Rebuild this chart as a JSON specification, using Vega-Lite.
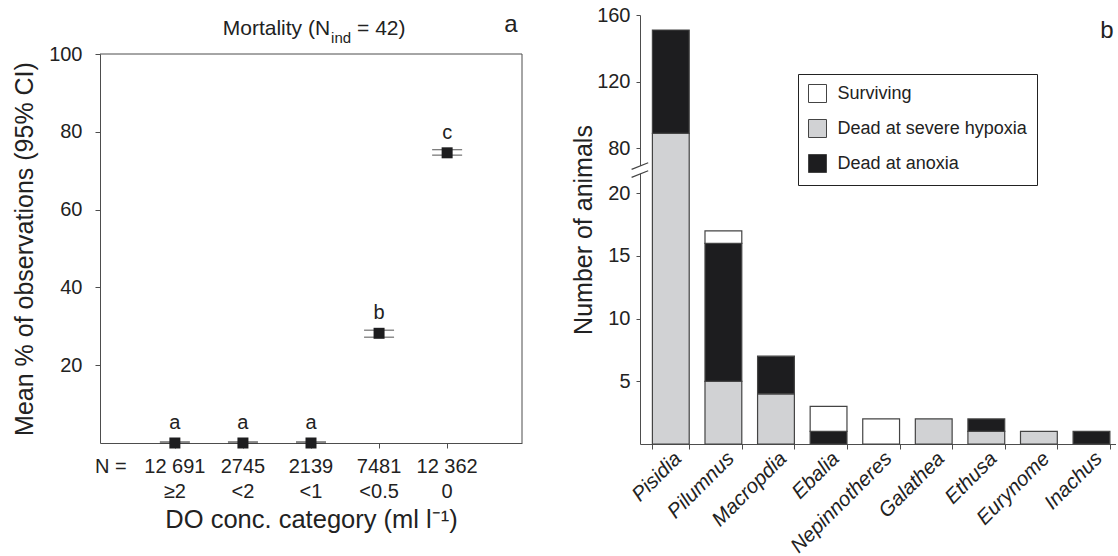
{
  "$schema": "https://vega.github.io/schema/vega-lite/v6.json",
  "padding": {"left": 12, "top": 5, "right": 0, "bottom": 0},
  "bounds": "flush",
  "spacing": 118,
  "config": {
    "font": "Liberation Sans",
    "view": {"stroke": null},
    "axis": {
      "labelFont": "Liberation Sans",
      "titleFont": "Liberation Sans",
      "labelColor": "#222",
      "titleColor": "#222",
      "domainColor": "#4d4d4d",
      "tickColor": "#4d4d4d",
      "grid": false,
      "titleFontWeight": "normal"
    },
    "text": {"font": "Liberation Sans", "color": "#222"}
  },
  "hconcat": [
    {
      "width": 422,
      "height": 428,
      "data": {
        "values": [
          {"cat": 1, "n": "12 691", "lab": "≥2", "mean": 0, "lo": 0, "hi": 0.3, "letter": "a"},
          {"cat": 2, "n": "2745", "lab": "<2", "mean": 0, "lo": 0, "hi": 0.3, "letter": "a"},
          {"cat": 3, "n": "2139", "lab": "<1", "mean": 0, "lo": 0, "hi": 0.3, "letter": "a"},
          {"cat": 4, "n": "7481", "lab": "<0.5", "mean": 28.2, "lo": 27.2, "hi": 29.0, "letter": "b"},
          {"cat": 5, "n": "12 362", "lab": "0", "mean": 74.6, "lo": 74.0, "hi": 75.4, "letter": "c"}
        ]
      },
      "layer": [
        {
          "mark": {"type": "rule", "color": "#1d1d1f", "strokeWidth": 1.2},
          "encoding": {
            "x": {
              "field": "cat",
              "type": "quantitative",
              "title": "DO conc. category (ml l⁻¹)",
              "scale": {"domain": [-0.1, 6.1], "nice": false, "zero": false},
              "axis": {"values": [1, 2, 3, 4, 5], "labels": false, "tickSize": 5, "titleFontSize": 25.5, "titlePadding": 59}
            },
            "y": {
              "field": "lo",
              "type": "quantitative",
              "title": "Mean % of observations (95% CI)",
              "scale": {"domain": [0, 100], "range": [428, 39], "nice": false, "zero": false},
              "axis": {"values": [20, 40, 60, 80, 100], "tickSize": 5, "labelPadding": 13, "labelFontSize": 20, "titleFontSize": 25, "titlePadding": 11}
            },
            "y2": {"field": "hi"}
          }
        },
        {
          "data": {"values": [{"x0": -0.1, "x1": 6.1, "yv": 100}]},
          "mark": {"type": "rule", "color": "#4d4d4d", "strokeWidth": 1},
          "encoding": {
            "x": {"field": "x0", "type": "quantitative", "title": "DO conc. category (ml l⁻¹)"},
            "x2": {"field": "x1"},
            "y": {"field": "yv", "type": "quantitative", "title": "Mean % of observations (95% CI)"}
          }
        },
        {
          "data": {"values": [{"xv": 6.1, "y0": 0, "y1": 100}]},
          "mark": {"type": "rule", "color": "#4d4d4d", "strokeWidth": 1},
          "encoding": {
            "x": {"field": "xv", "type": "quantitative", "title": "DO conc. category (ml l⁻¹)"},
            "y": {"field": "y0", "type": "quantitative", "title": "Mean % of observations (95% CI)"},
            "y2": {"field": "y1"}
          }
        },
        {
          "mark": {"type": "tick", "orient": "horizontal", "size": 30, "thickness": 1.2, "color": "#333"},
          "encoding": {
            "x": {"field": "cat", "type": "quantitative", "title": "DO conc. category (ml l⁻¹)"},
            "y": {"field": "lo", "type": "quantitative", "title": "Mean % of observations (95% CI)"}
          }
        },
        {
          "mark": {"type": "tick", "orient": "horizontal", "size": 30, "thickness": 1.2, "color": "#333"},
          "encoding": {
            "x": {"field": "cat", "type": "quantitative", "title": "DO conc. category (ml l⁻¹)"},
            "y": {"field": "hi", "type": "quantitative", "title": "Mean % of observations (95% CI)"}
          }
        },
        {
          "mark": {"type": "point", "shape": "square", "filled": true, "size": 121, "color": "#1d1d1f", "opacity": 1},
          "encoding": {
            "x": {"field": "cat", "type": "quantitative", "title": "DO conc. category (ml l⁻¹)"},
            "y": {"field": "mean", "type": "quantitative", "title": "Mean % of observations (95% CI)"}
          }
        },
        {
          "mark": {"type": "text", "fontSize": 20, "baseline": "alphabetic", "dy": -14},
          "encoding": {
            "x": {"field": "cat", "type": "quantitative", "title": "DO conc. category (ml l⁻¹)"},
            "y": {"field": "mean", "type": "quantitative", "title": "Mean % of observations (95% CI)"},
            "text": {"field": "letter"}
          }
        },
        {
          "mark": {"type": "text", "fontSize": 20, "baseline": "alphabetic", "dy": 30},
          "encoding": {
            "x": {"field": "cat", "type": "quantitative", "title": "DO conc. category (ml l⁻¹)"},
            "y": {"datum": 0, "type": "quantitative"},
            "text": {"field": "n"}
          }
        },
        {
          "mark": {"type": "text", "fontSize": 20, "baseline": "alphabetic", "dy": 55},
          "encoding": {
            "x": {"field": "cat", "type": "quantitative", "title": "DO conc. category (ml l⁻¹)"},
            "y": {"datum": 0, "type": "quantitative"},
            "text": {"field": "lab"}
          }
        },
        {
          "data": {"values": [{"t": "N =", "xv": 0.06, "yv": 0}]},
          "mark": {"type": "text", "fontSize": 20, "baseline": "alphabetic", "dy": 30},
          "encoding": {
            "x": {"field": "xv", "type": "quantitative", "title": "DO conc. category (ml l⁻¹)"},
            "y": {"field": "yv", "type": "quantitative", "title": "Mean % of observations (95% CI)"},
            "text": {"field": "t"}
          }
        },
        {
          "data": {"values": [{"t": "Mortality (N", "xv": 3.28, "yv": 100}]},
          "mark": {"type": "text", "fontSize": 21, "align": "right", "baseline": "alphabetic", "dy": -19},
          "encoding": {
            "x": {"field": "xv", "type": "quantitative", "title": "DO conc. category (ml l⁻¹)"},
            "y": {"field": "yv", "type": "quantitative", "title": "Mean % of observations (95% CI)"},
            "text": {"field": "t"}
          }
        },
        {
          "data": {"values": [{"t": "ind", "xv": 3.28, "yv": 100}]},
          "mark": {"type": "text", "fontSize": 15, "align": "left", "baseline": "alphabetic", "dx": 1, "dy": -11},
          "encoding": {
            "x": {"field": "xv", "type": "quantitative", "title": "DO conc. category (ml l⁻¹)"},
            "y": {"field": "yv", "type": "quantitative", "title": "Mean % of observations (95% CI)"},
            "text": {"field": "t"}
          }
        },
        {
          "data": {"values": [{"t": "= 42)", "xv": 3.28, "yv": 100}]},
          "mark": {"type": "text", "fontSize": 21, "align": "left", "baseline": "alphabetic", "dx": 27, "dy": -19},
          "encoding": {
            "x": {"field": "xv", "type": "quantitative", "title": "DO conc. category (ml l⁻¹)"},
            "y": {"field": "yv", "type": "quantitative", "title": "Mean % of observations (95% CI)"},
            "text": {"field": "t"}
          }
        },
        {
          "data": {"values": [{"t": "a", "xv": 5.937, "yv": 100}]},
          "mark": {"type": "text", "fontSize": 24, "align": "center", "baseline": "alphabetic", "dy": -22},
          "encoding": {
            "x": {"field": "xv", "type": "quantitative", "title": "DO conc. category (ml l⁻¹)"},
            "y": {"field": "yv", "type": "quantitative", "title": "Mean % of observations (95% CI)"},
            "text": {"field": "t"}
          }
        }
      ]
    },
    {
      "width": 476,
      "height": 429,
      "data": {
        "values": [
          {"genus": "Pisidia", "status": "Dead at severe hypoxia", "ord": 1, "count": 89},
          {"genus": "Pisidia", "status": "Dead at anoxia", "ord": 2, "count": 62},
          {"genus": "Pilumnus", "status": "Dead at severe hypoxia", "ord": 1, "count": 5},
          {"genus": "Pilumnus", "status": "Dead at anoxia", "ord": 2, "count": 11},
          {"genus": "Pilumnus", "status": "Surviving", "ord": 3, "count": 1},
          {"genus": "Macropdia", "status": "Dead at severe hypoxia", "ord": 1, "count": 4},
          {"genus": "Macropdia", "status": "Dead at anoxia", "ord": 2, "count": 3},
          {"genus": "Ebalia", "status": "Dead at anoxia", "ord": 2, "count": 1},
          {"genus": "Ebalia", "status": "Surviving", "ord": 3, "count": 2},
          {"genus": "Nepinnotheres", "status": "Surviving", "ord": 3, "count": 2},
          {"genus": "Galathea", "status": "Dead at severe hypoxia", "ord": 1, "count": 2},
          {"genus": "Ethusa", "status": "Dead at severe hypoxia", "ord": 1, "count": 1},
          {"genus": "Ethusa", "status": "Dead at anoxia", "ord": 2, "count": 1},
          {"genus": "Eurynome", "status": "Dead at severe hypoxia", "ord": 1, "count": 1},
          {"genus": "Inachus", "status": "Dead at anoxia", "ord": 2, "count": 1}
        ]
      },
      "layer": [
        {
          "mark": {"type": "bar", "stroke": "#444", "strokeWidth": 1.2},
          "encoding": {
            "x": {
              "field": "genus",
              "type": "nominal",
              "sort": null,
              "scale": {"domain": ["Pisidia", "Pilumnus", "Macropdia", "Ebalia", "Nepinnotheres", "Galathea", "Ethusa", "Eurynome", "Inachus"], "paddingInner": 0.3, "paddingOuter": 0.176, "align": 0.67},
              "axis": {"title": null, "labelAngle": -45, "labelAlign": "right", "labelBaseline": "top", "labelFontSize": 20.5, "labelFontStyle": "italic", "labelPadding": -1, "tickBand": "extent", "tickSize": 5}
            },
            "y": {
              "field": "count",
              "type": "quantitative",
              "stack": "zero",
              "title": "Number of animals",
              "scale": {"domain": [0, 21.5, 69, 160], "range": [429, 159.4, 151.6, 0], "nice": false, "zero": false},
              "axis": {"values": [5, 10, 15, 20, 80, 120, 160], "tickSize": 4, "labelPadding": 6, "labelFontSize": 20, "titleFontSize": 25, "titlePadding": 0}
            },
            "color": {
              "field": "status",
              "type": "nominal",
              "scale": {"domain": ["Surviving", "Dead at severe hypoxia", "Dead at anoxia"], "range": ["#ffffff", "#d1d2d4", "#1d1d1f"]},
              "legend": {
                "orient": "none",
                "legendX": 698,
                "legendY": 59,
                "title": null,
                "symbolType": "square",
                "symbolSize": 324,
                "symbolStrokeColor": "#444",
                "symbolStrokeWidth": 1,
                "labelFontSize": 18,
                "labelFont": "Liberation Sans",
                "labelColor": "#222",
                "labelLimit": 400,
                "labelOffset": 10.6,
                "rowPadding": 12,
                "padding": 10,
                "strokeColor": "#222",
                "fillColor": "#ffffff"
              }
            },
            "order": {"field": "ord", "type": "quantitative"}
          }
        },
        {
          "data": {"values": [{"genus": "Pisidia", "count": 48}]},
          "mark": {"type": "point", "shape": "M-1,-0.08L1,-0.88L1,0.08L-1,0.88Z", "filled": true, "fill": "#ffffff", "strokeWidth": 0, "size": 276, "opacity": 1, "xOffset": -30.9},
          "encoding": {
            "x": {"field": "genus", "type": "nominal", "sort": null},
            "y": {"field": "count", "type": "quantitative", "title": "Number of animals"}
          }
        },
        {
          "data": {"values": [{"genus": "Pisidia", "count": 48}]},
          "mark": {"type": "point", "shape": "M-1,-0.08L1,-0.88M-1,0.88L1,0.08", "filled": false, "stroke": "#444", "strokeWidth": 1.2, "size": 276, "opacity": 1, "xOffset": -30.9},
          "encoding": {
            "x": {"field": "genus", "type": "nominal", "sort": null},
            "y": {"field": "count", "type": "quantitative", "title": "Number of animals"}
          }
        },
        {
          "data": {"values": [{"t": "b", "genus": "Inachus", "count": 160}]},
          "mark": {"type": "text", "fontSize": 24, "align": "center", "baseline": "alphabetic", "dx": 15.5, "dy": 23},
          "encoding": {
            "x": {"field": "genus", "type": "nominal", "sort": null},
            "y": {"field": "count", "type": "quantitative", "title": "Number of animals"},
            "text": {"field": "t"}
          }
        }
      ]
    }
  ]
}
